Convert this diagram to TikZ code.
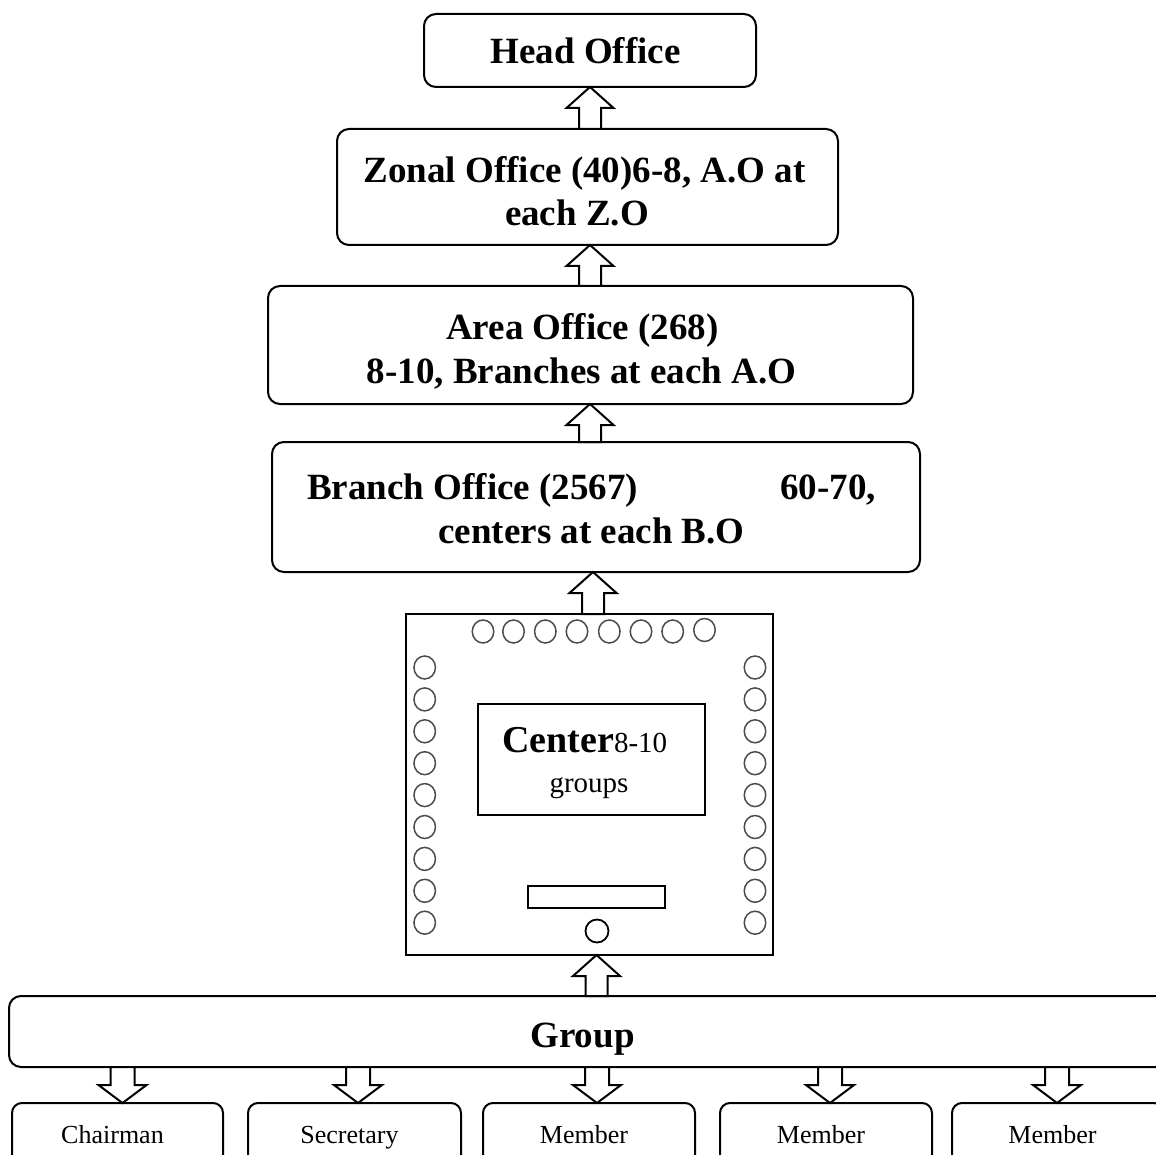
\documentclass[tikz,border=0pt]{standalone}
\usepackage{fontspec}
\setmainfont{Liberation Serif}
\usetikzlibrary{calc}
\tikzset{
  rbox/.style={draw, line width=2pt, rounded corners=12pt, inner sep=0pt, outer sep=0pt, fill=white},
  sbox/.style={draw, line width=2pt, rounded corners=10pt, inner sep=0pt, outer sep=0pt},
  plainbox/.style={draw, line width=2.6pt, inner sep=0pt, outer sep=0pt},
  bigtxt/.style={font=\fontsize{37}{44}\selectfont\bfseries, inner sep=0pt, anchor=base},
  smalltxt/.style={font=\fontsize{26}{30}\selectfont, inner sep=0pt, anchor=base},
  blk/.style={draw, line width=2pt, fill=white, line join=miter},
  dot/.style={draw=black!70, line width=1.5pt, ellipse, minimum width=21.5pt, minimum height=23pt, inner sep=0pt},
}
\usetikzlibrary{shapes.geometric}
% up block arrow: #1 tip node (its south), #2 tail node (its north), #3 x in pt
\newcommand\blkup[3]{%
  \draw[blk] let \p1=(#1.south), \p2=(#2.north) in
    (#3pt,\y1) -- (#3pt+23.5pt,\y1-21pt) -- (#3pt+11pt,\y1-21pt) -- (#3pt+11pt,\y2)
    -- (#3pt-11pt,\y2) -- (#3pt-11pt,\y1-21pt) -- (#3pt-23.5pt,\y1-21pt) -- cycle;}
% down block arrow: #1 tail node (its south), #2 tip node (its north), #3 x in pt
\newcommand\blkdown[3]{%
  \draw[blk] let \p1=(#1.south), \p2=(#2.north) in
    (#3pt,\y2) -- (#3pt+24pt,\y2+18pt) -- (#3pt+12pt,\y2+18pt) -- (#3pt+12pt,\y1)
    -- (#3pt-12pt,\y1) -- (#3pt-12pt,\y2+18pt) -- (#3pt-24pt,\y2+18pt) -- cycle;}
\begin{document}
\begin{tikzpicture}[x=1pt,y=-1pt]
\useasboundingbox (0,0) rectangle (1156,1155);
\clip (0,0) rectangle (1156,1155);

% office boxes
\node[rbox, minimum width=332pt, minimum height=73pt] (head) at (590,50.5) {};
\node[rbox, minimum width=501pt, minimum height=116pt] (zonal) at (587.5,187) {};
\node[rbox, minimum width=645pt, minimum height=118pt] (area) at (590.5,345) {};
\node[rbox, minimum width=648pt, minimum height=130pt] (branch) at (596,507) {};

\node[bigtxt] (headt) at (585.5,64) {Head Office};
\node[bigtxt] (zonalt1) at (584.5,183) {Zonal Office (40)6-8, A.O at};
\node[bigtxt] (zonalt2) at (577,226) {each Z.O};
\node[bigtxt] (areat1) at (582.5,340) {Area Office (268)};
\node[bigtxt] (areat2) at (581.5,383) {8-10, Branches at each A.O};
\node[bigtxt, anchor=base west] (brancht1) at (307,499) {Branch Office (2567)};
\node[bigtxt, anchor=base east] (brancht2) at (876,499) {60-70,};
\node[bigtxt] (brancht3) at (591.5,543) {centers at each B.O};

% center square
\node[plainbox, minimum width=367pt, minimum height=341pt] (center) at (589.5,784.5) {};
\node[plainbox, line width=2pt, minimum width=227pt, minimum height=111pt] (inner) at (591.5,759.5) {};
\node[inner sep=0pt, anchor=base west] (centert1) at (502,752)
  {\fontsize{38}{44}\selectfont\bfseries Center\fontsize{29}{34}\mdseries\selectfont 8-10};
\node[inner sep=0pt, anchor=base, font=\fontsize{29}{34}\selectfont] (centert2) at (589,792) {groups};
\node[plainbox, line width=2pt, minimum width=137pt, minimum height=22pt] (slot) at (596.5,897) {};
\node[draw, circle, line width=1.8pt, minimum size=23pt, inner sep=0pt] (knob) at (597,931) {};

% seats
\foreach \i/\xx in {1/483,2/513.5,3/545.3,4/577,5/609.3,6/641,7/672.7} {
  \node[dot] (top\i) at (\xx,631.5) {};
}
\node[dot] (top8) at (704.5,630) {};
\foreach \i in {0,...,8} {
  \node[dot] (left\i) at (424.7,667.5+31.9*\i) {};
  \node[dot] (right\i) at (755,667.5+31.9*\i) {};
}

% group
\node[rbox, minimum width=1166pt, minimum height=71pt] (group) at (592,1031.5) {};
\node[bigtxt] (groupt) at (582.5,1047) {Group};

% members
\node[sbox, minimum width=211pt, minimum height=62pt] (m1) at (117.5,1134) {};
\node[sbox, minimum width=213pt, minimum height=62pt] (m2) at (354.5,1134) {};
\node[sbox, minimum width=212pt, minimum height=62pt] (m3) at (589,1134) {};
\node[sbox, minimum width=212pt, minimum height=62pt] (m4) at (826,1134) {};
\node[sbox, minimum width=212pt, minimum height=62pt] (m5) at (1058,1134) {};
\node[smalltxt] (m1t) at (112.5,1143) {Chairman};
\node[smalltxt] (m2t) at (349.5,1143) {Secretary};
\node[smalltxt] (m3t) at (584,1143) {Member};
\node[smalltxt] (m4t) at (821,1143) {Member};
\node[smalltxt] (m5t) at (1052.5,1143) {Member};

% arrows
\blkup{head}{zonal}{590}
\blkup{zonal}{area}{590}
\blkup{area}{branch}{590}
\blkup{branch}{center}{593}
\blkup{center}{group}{596.5}
\blkdown{group}{m1}{122.5}
\blkdown{group}{m2}{358}
\blkdown{group}{m3}{597}
\blkdown{group}{m4}{830}
\blkdown{group}{m5}{1057}
\end{tikzpicture}
\end{document}
